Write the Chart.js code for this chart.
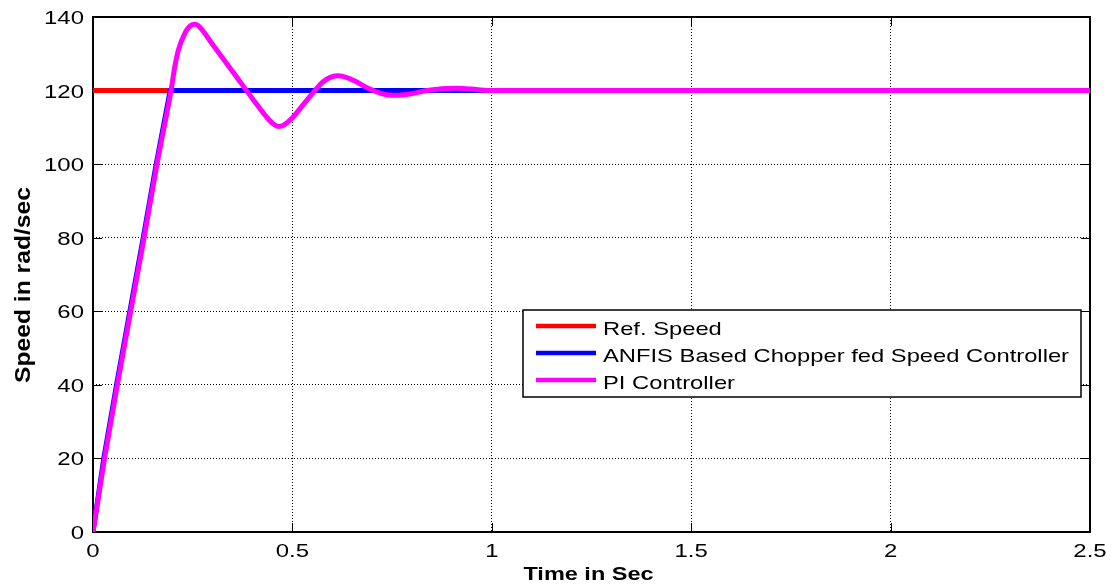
<!DOCTYPE html>
<html>
<head>
<meta charset="utf-8">
<script src="https://cdn.jsdelivr.net/npm/chart.js@4/dist/chart.umd.min.js"></script>
<style>
html, body { margin: 0; padding: 0; background: #ffffff; }
#wrap { width: 1112px; height: 587px; position: relative; }
</style>
</head>
<body>
<div id="wrap"><canvas id="speedChart"></canvas></div>
<script>
// Reference speed command (rad/sec)
const refTime  = [0, 2.5];
const refSpeed = [120, 120];

// ANFIS based chopper fed drive response
const anfisTime  = [0, 0.027, 0.059, 0.0925, 0.126, 0.1585, 0.1936, 2.5];
const anfisSpeed = [0, 20, 40, 60, 80, 100, 120, 120];

// PI controller response
const piTime  = [0, 0.029, 0.061, 0.0945, 0.128, 0.1605, 0.1956, 0.205, 0.214, 0.23, 0.243, 0.256, 0.268,
                 0.3, 0.35, 0.4, 0.44, 0.455, 0.466, 0.478, 0.5, 0.525, 0.55, 0.577, 0.598, 0.615, 0.635,
                 0.66, 0.69, 0.72, 0.74, 0.762, 0.79, 0.837, 0.875, 0.915, 0.95, 0.99, 1.5, 2.0, 2.5];
const piSpeed = [0, 20, 40, 60, 80, 100, 120, 126.4, 131, 135.5, 137.5, 138, 137.2,
                 132.5, 125.2, 117.8, 112.2, 110.7, 110.2, 110.6, 112.6, 115.9, 119.2, 122.4, 123.7, 124, 123.6,
                 122.4, 120.6, 119.3, 118.8, 118.7, 119.0, 120, 120.5, 120.6, 120.4, 120, 120, 120, 120];

// Axis ticks and texts
const xTickValues = [0, 0.5, 1, 1.5, 2, 2.5];
const xTickLabels = ['0', '0.5', '1', '1.5', '2', '2.5'];
const yTickValues = [0, 20, 40, 60, 80, 100, 120, 140];
const yTickLabels = ['0', '20', '40', '60', '80', '100', '120', '140'];
const seriesLabels = ['Ref. Speed', 'ANFIS Based Chopper fed Speed Controller', 'PI Controller'];
const seriesColors = ['#ff0000', '#0000ff', '#ff00ff'];
const xTitle = 'Time in Sec';
const yTitle = 'Speed in rad/sec';

const FAMILY = '"Liberation Sans", Arial, Helvetica, sans-serif';

function toPoints(t, v) {
  return t.map((x, i) => ({ x: x, y: v[i] }));
}

// Text drawn with a horizontal stretch factor
function wideText(ctx, text, x, y, align, font, sx) {
  ctx.save();
  ctx.translate(x, y);
  ctx.scale(sx, 1);
  ctx.font = font;
  ctx.textAlign = align;
  ctx.textBaseline = 'alphabetic';
  ctx.fillStyle = '#000000';
  ctx.fillText(text, 0, 0);
  ctx.restore();
}

// Axes frame, inward tick marks, tick labels and axis titles
const axesDecor = {
  id: 'axesDecor',
  beforeDatasetsDraw(chart) {
    const { ctx, chartArea: a, scales: { x, y } } = chart;
    ctx.save();
    ctx.strokeStyle = '#000000';
    ctx.lineWidth = 1;
    const tl = 9;
    ctx.beginPath();
    xTickValues.forEach(v => {
      const px = Math.round(x.getPixelForValue(v)) + 0.5;
      ctx.moveTo(px, a.bottom); ctx.lineTo(px, a.bottom - tl);
      ctx.moveTo(px, a.top); ctx.lineTo(px, a.top + tl);
    });
    yTickValues.forEach(v => {
      const py = Math.round(y.getPixelForValue(v)) + 0.5;
      ctx.moveTo(a.left, py); ctx.lineTo(a.left + tl, py);
      ctx.moveTo(a.right, py); ctx.lineTo(a.right - tl, py);
    });
    ctx.stroke();
    ctx.lineWidth = 2;
    ctx.strokeRect(a.left, a.top, a.right - a.left, a.bottom - a.top);
    ctx.restore();
  },
  afterDraw(chart) {
    const { ctx, chartArea: a, scales: { x, y } } = chart;
    const tickFont = '18px ' + FAMILY;
    xTickValues.forEach((v, i) => {
      wideText(ctx, xTickLabels[i], x.getPixelForValue(v), a.bottom + 25, 'center', tickFont, 1.33);
    });
    yTickValues.forEach((v, i) => {
      wideText(ctx, yTickLabels[i], a.left - 9, y.getPixelForValue(v) + 7, 'right', tickFont, 1.33);
    });
    wideText(ctx, xTitle, (a.left + a.right) / 2 - 3, 580, 'center', 'bold 18.5px ' + FAMILY, 1.27);
    ctx.save();
    ctx.translate(30, 285);
    ctx.rotate(-Math.PI / 2);
    ctx.scale(1.12, 1);
    ctx.font = 'bold 22px ' + FAMILY;
    ctx.textAlign = 'center';
    ctx.textBaseline = 'alphabetic';
    ctx.fillStyle = '#000000';
    ctx.fillText(yTitle, 0, 0);
    ctx.restore();
  }
};

// Boxed legend inside the plot area
const boxLegend = {
  id: 'boxLegend',
  afterDatasetsDraw(chart) {
    const { ctx } = chart;
    const bx = 523, by = 310, bw = 558, bh = 87;
    ctx.save();
    ctx.fillStyle = '#ffffff';
    ctx.fillRect(bx, by, bw, bh);
    ctx.strokeStyle = '#000000';
    ctx.lineWidth = 1.5;
    ctx.strokeRect(bx, by, bw, bh);
    chart.data.datasets.forEach((ds, i) => {
      const ly = by + 16 + i * 27;
      ctx.strokeStyle = ds.borderColor;
      ctx.lineWidth = 4.5;
      ctx.beginPath();
      ctx.moveTo(536, ly);
      ctx.lineTo(596, ly);
      ctx.stroke();
      wideText(ctx, ds.label, 603, ly + 9, 'left', '19px ' + FAMILY, 1.25);
    });
    ctx.restore();
  }
};

const curved = { pointRadius: 0, borderWidth: 5, fill: false, cubicInterpolationMode: 'monotone', tension: 0.4 };
const straight = { pointRadius: 0, borderWidth: 5, fill: false, tension: 0 };

new Chart(document.getElementById('speedChart'), {
  type: 'line',
  data: {
    datasets: [
      Object.assign({ label: seriesLabels[0], data: toPoints(refTime, refSpeed), borderColor: seriesColors[0], backgroundColor: seriesColors[0], order: 3 }, straight),
      Object.assign({ label: seriesLabels[1], data: toPoints(anfisTime, anfisSpeed), borderColor: seriesColors[1], backgroundColor: seriesColors[1], order: 2 }, straight),
      Object.assign({ label: seriesLabels[2], data: toPoints(piTime, piSpeed), borderColor: seriesColors[2], backgroundColor: seriesColors[2], order: 1 }, curved)
    ]
  },
  options: {
    responsive: true,
    maintainAspectRatio: false,
    animation: false,
    layout: { padding: { top: 17, right: 22, left: 0, bottom: 0 } },
    plugins: { legend: { display: false }, tooltip: { enabled: false } },
    scales: {
      x: {
        type: 'linear', min: 0, max: 2.5,
        ticks: { display: false, stepSize: 0.5 },
        grid: { color: '#000000', lineWidth: 1, drawTicks: false },
        border: { display: false, dash: [1, 2] },
        afterFit(scale) { scale.height = 55; }
      },
      y: {
        type: 'linear', min: 0, max: 140,
        ticks: { display: false, stepSize: 20 },
        grid: { color: '#000000', lineWidth: 1, drawTicks: false },
        border: { display: false, dash: [1, 2] },
        afterFit(scale) { scale.width = 93; }
      }
    }
  },
  plugins: [axesDecor, boxLegend]
});
</script>
</body>
</html>
